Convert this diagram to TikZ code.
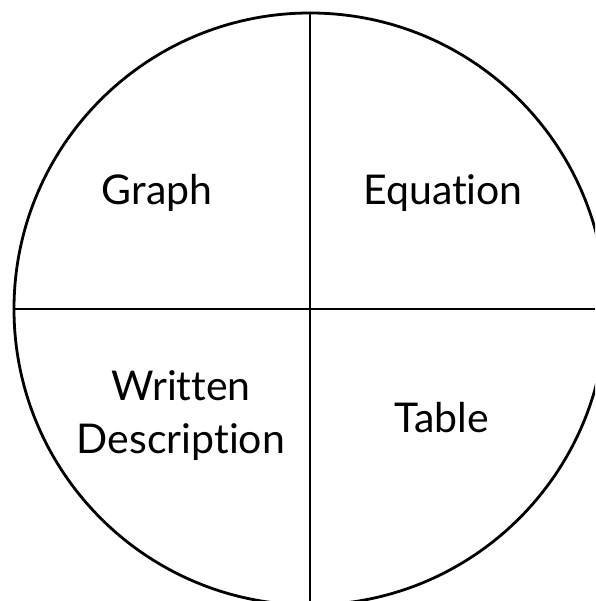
\documentclass[tikz,border=0pt]{standalone}
\usepackage{fontspec}
\setmainfont{Lato}[Ligatures={NoCommon}]
\usepackage{tikz}
\usetikzlibrary{positioning, calc}
\tikzset{
    disc/.style={circle, draw, line width=2.8pt, minimum size=592pt, inner sep=0pt},
    divider/.style={line width=2.8pt},
    quadrant/.style={align=center, font=\fontsize{41}{53}\selectfont},
}

\begin{document}
\begin{tikzpicture}[x=1pt, y=-1pt]
    \useasboundingbox (0,0) rectangle (595,601);
    \clip (0,0) rectangle (595,601);

    % Outer circle
    \node[disc] (wheel) at (310,309) {};

    % Free ends of the dividers at the page edges
    \coordinate (bottomend) at (310,601);
    \coordinate (rightend) at (595,309);

    % Dividers
    \draw[divider] (wheel.north) -- (bottomend);
    \draw[divider] (wheel.west) -- (rightend);

    % Quadrant labels
    \node[quadrant] (graph) at (157,193) {Graph};
    \node[quadrant] (equation) at (443,193) {Equation};
    \node[quadrant] (written) at (181,416) {Written\\Description};
    \node[quadrant] (table) at (442,418) {Table};
\end{tikzpicture}
\end{document}
